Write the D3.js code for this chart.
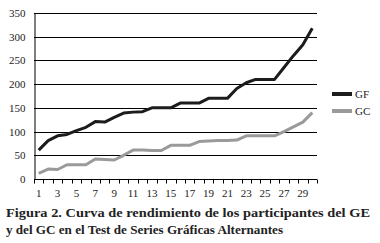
<!DOCTYPE html>
<html>
<head>
<meta charset="utf-8">
<script src="https://cdn.jsdelivr.net/npm/d3@7"></script>
<style>
  body { margin: 0; background: #fff; }
  text { font-family: "Liberation Serif", "DejaVu Serif", serif; fill: #222; }
</style>
</head>
<body>
<svg width="380" height="243"></svg>
<script>
  // participants 1..30
  var sessions = d3.range(1, 31);
  var gf = [61, 81, 91, 94, 102, 109, 121, 120, 130, 139, 141, 142, 150, 150, 150,
            160, 160, 160, 170, 170, 170, 191, 203, 210, 210, 210, 235, 260, 283, 318];
  var gc = [12, 21, 20, 30, 30, 30, 42, 41, 40, 50, 61, 61, 60, 60, 71,
            71, 71, 79, 80, 81, 81, 82, 91, 91, 91, 91, 100, 110, 120, 140];
  var yTicks = [0, 50, 100, 150, 200, 250, 300, 350];
  var seriesNames = ["GF", "GC"];
  var seriesColors = ["#1c1c1c", "#9a9a9a"];
  var caption = [
    "Figura 2. Curva de rendimiento de los participantes del GE",
    "y del GC en el Test de Series Gráficas Alternantes"
  ];

  var plotLeft = 34, plotRight = 317, plotTop = 13, plotBottom = 179;

  var svg = d3.select("svg");

  var x = d3.scaleBand().domain(sessions).range([plotLeft, plotRight]);
  var y = d3.scaleLinear().domain([0, 350]).range([plotBottom, plotTop]);

  // gridlines
  svg.append("g")
      .selectAll("line").data(yTicks.slice(1)).enter()
      .append("line")
      .attr("x1", plotLeft).attr("x2", plotRight)
      .attr("y1", function (d) { return Math.round(y(d)) + 0.5; })
      .attr("y2", function (d) { return Math.round(y(d)) + 0.5; })
      .attr("stroke", "#000")
      .attr("stroke-width", 1);

  // y axis
  var yAxis = svg.append("g")
      .attr("transform", "translate(" + (plotLeft + 0.5) + ",0)")
      .call(d3.axisLeft(y).tickValues(yTicks).tickSize(0).tickPadding(9));
  yAxis.select(".domain").attr("stroke", "#000");
  yAxis.selectAll("text").attr("font-size", 11).attr("font-family", "Liberation Serif").attr("fill", "#333");

  // x axis: ticks between categories
  var xAxis = svg.append("g")
      .attr("transform", "translate(0," + (plotBottom + 0.5) + ")");
  xAxis.append("line")
      .attr("x1", plotLeft).attr("x2", plotRight)
      .attr("stroke", "#000");
  var bounds = sessions.map(function (s) { return x(s); }).concat([plotRight]);
  xAxis.selectAll("line.tick").data(bounds).enter()
      .append("line")
      .attr("class", "tick")
      .attr("x1", function (d) { return Math.round(d) + 0.5; })
      .attr("x2", function (d) { return Math.round(d) + 0.5; })
      .attr("y1", 0).attr("y2", 4)
      .attr("stroke", "#000");
  xAxis.selectAll("text").data(sessions.filter(function (s) { return s % 2 === 1; })).enter()
      .append("text")
      .attr("x", function (d) { return x(d) + x.bandwidth() / 2; })
      .attr("y", 17)
      .attr("text-anchor", "middle")
      .attr("font-size", 11)
      .attr("fill", "#333")
      .text(function (d) { return d; });

  // lines
  var line = d3.line()
      .x(function (d, i) { return x(sessions[i]) + x.bandwidth() / 2; })
      .y(function (d) { return y(d); });

  [gf, gc].forEach(function (vals, k) {
    svg.append("path")
        .attr("d", line(vals))
        .attr("fill", "none")
        .attr("stroke", seriesColors[k])
        .attr("stroke-width", 3)
        .attr("stroke-linejoin", "round");
  });

  // legend
  var legend = svg.append("g").attr("transform", "translate(332,94)");
  seriesNames.forEach(function (name, k) {
    var g = legend.append("g").attr("transform", "translate(0," + (k * 17) + ")");
    g.append("line")
        .attr("x1", 0).attr("x2", 20)
        .attr("stroke", seriesColors[k])
        .attr("stroke-width", 4);
    g.append("text")
        .attr("x", 23).attr("y", 4)
        .attr("font-size", 11)
        .attr("fill", "#333")
        .text(name);
  });

  // caption
  var captionWidths = [364, 277];
  svg.selectAll("text.caption").data(caption).enter()
      .append("text")
      .attr("class", "caption")
      .attr("x", 6)
      .attr("y", function (d, i) { return 217 + i * 17; })
      .attr("font-size", 13.5)
      .attr("font-weight", "bold")
      .attr("textLength", function (d, i) { return captionWidths[i]; })
      .attr("lengthAdjust", "spacingAndGlyphs")
      .text(function (d) { return d; });
</script>
</body>
</html>
